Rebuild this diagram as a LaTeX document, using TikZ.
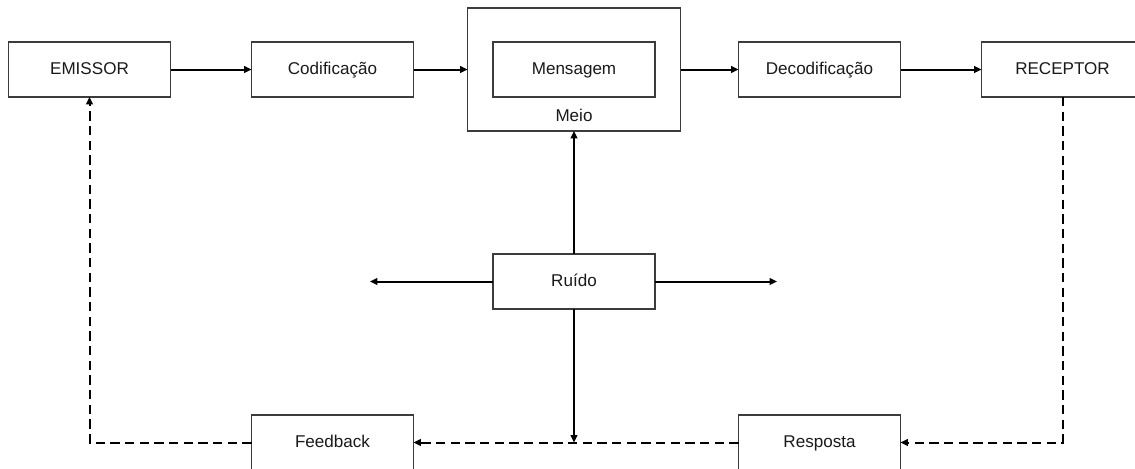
\documentclass[tikz,border=0pt]{standalone}
\usepackage{fontspec}
\setmainfont{Liberation Sans}
\usepackage{tikz}
\usetikzlibrary{arrows.meta,positioning,calc}
\definecolor{boxline}{HTML}{3C3C3C}
\definecolor{ink}{HTML}{1A1A1A}
\tikzset{
  combox/.style={rectangle,draw=boxline,line width=0.8pt,fill=white,text=ink,
    align=center,font=\fontsize{12.8}{15}\selectfont,
    text height=9.5pt,text depth=2.5pt,outer sep=0pt,
    minimum width=121.5pt,minimum height=41.25pt,inner sep=2pt},
  meiobox/.style={rectangle,draw=boxline,line width=0.8pt,fill=white,outer sep=0pt,
    minimum width=159.75pt,minimum height=92.25pt,inner sep=0pt},
  comarr/.style={-{Triangle[length=5.5pt,width=5pt]},line width=1.5pt,color=black},
  fbarr/.style={comarr,dash pattern=on 7pt off 4pt},
  comlabel/.style={font=\fontsize{12.8}{15}\selectfont,text=ink,inner sep=1pt},
}

\begin{document}
\begin{tikzpicture}[x=0.75pt,y=-0.75pt]
  \useasboundingbox (0,0) rectangle (1135,468);
  \node[combox] (emissor) at (89.5,69.5) {EMISSOR};
  \node[combox,right=60.75pt of emissor] (codif) {Codificação};
  \node[meiobox,right=40.5pt of codif] (meio) {};
  \node[combox] (msg) at (meio.center) {Mensagem};
  \node[comlabel,above=6pt of meio.south] (meiolbl) {Meio};
  \node[combox,right=43.5pt of meio] (decod) {Decodificação};
  \node[combox,right=60.75pt of decod] (receptor) {RECEPTOR};
  \node[combox,below=92.25pt of meio] (ruido) {Ruído};
  \node[combox,below=238.5pt of codif] (feedback) {Feedback};
  \node[combox,below=238.5pt of decod] (resposta) {Resposta};
  \coordinate[left=92.25pt of ruido.west] (noiseL);
  \coordinate[right=91.5pt of ruido.east] (noiseR);
  \coordinate (noiseD) at (ruido.south |- feedback.east);

  \draw[comarr] (emissor) -- (codif);
  \draw[comarr] (codif) -- (meio);
  \draw[comarr] (meio) -- (decod);
  \draw[comarr] (decod) -- (receptor);
  \draw[comarr] (ruido) -- (meio);
  \draw[comarr] (ruido) -- (noiseL);
  \draw[comarr] (ruido) -- (noiseR);
  \draw[comarr] (ruido) -- (noiseD);
  \draw[fbarr] (receptor.south) |- (resposta.east);
  \draw[fbarr] (resposta) -- (feedback);
  \draw[fbarr] (feedback.west) -| (emissor.south);
\end{tikzpicture}
\end{document}
